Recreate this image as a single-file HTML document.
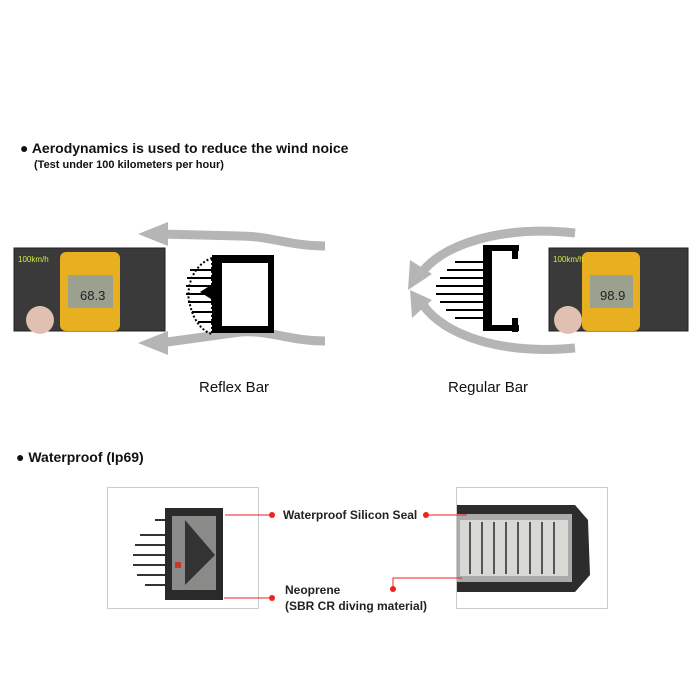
<!DOCTYPE html>
<html><head><style>
body{margin:0;width:700px;height:700px;background:#fff;position:relative;font-family:"Liberation Sans",sans-serif;overflow:hidden}
.t{position:absolute;color:#111;white-space:nowrap}
</style></head><body>
<div class="t" style="left:20px;top:140px;font-size:14px;font-weight:bold">● Aerodynamics is used to reduce the wind noice</div>
<div class="t" style="left:34px;top:159px;font-size:11px;font-weight:bold">(Test under 100 kilometers per hour)</div>
<div class="t" style="left:199px;top:379px;font-size:15px">Reflex Bar</div>
<div class="t" style="left:448px;top:379px;font-size:15px">Regular Bar</div>
<div class="t" style="left:16px;top:449px;font-size:14px;font-weight:bold">● Waterproof (Ip69)</div>
<div class="t" style="left:283px;top:508px;font-size:12px;font-weight:bold;color:#222">Waterproof Silicon Seal</div>
<div class="t" style="left:285px;top:583px;font-size:12px;font-weight:bold;color:#222">Neoprene</div>
<div class="t" style="left:285px;top:599px;font-size:12px;font-weight:bold;color:#222">(SBR CR diving material)</div>
<svg width="700" height="700" style="position:absolute;left:0;top:0">
<!-- left photo -->
<rect x="14" y="248" width="151" height="83" fill="#3a3a3a" stroke="#222"/>
<rect x="60" y="252" width="60" height="79" rx="6" fill="#e8b020"/>
<rect x="68" y="275" width="45" height="33" fill="#9aa28f"/>
<text x="80" y="300" font-size="13" fill="#222" font-family="Liberation Sans">68.3</text>
<circle cx="40" cy="320" r="14" fill="#e0c0b0"/>
<text x="18" y="262" font-size="8" fill="#d8e840" font-family="Liberation Sans">100km/h</text>
<!-- right photo -->
<rect x="549" y="248" width="139" height="83" fill="#3a3a3a" stroke="#222"/>
<rect x="582" y="252" width="58" height="79" rx="6" fill="#e8b020"/>
<rect x="590" y="275" width="43" height="33" fill="#9aa28f"/>
<text x="600" y="300" font-size="13" fill="#222" font-family="Liberation Sans">98.9</text>
<circle cx="568" cy="320" r="14" fill="#e0c0b0"/>
<text x="553" y="262" font-size="8" fill="#d8e840" font-family="Liberation Sans">100km/h</text>
<!-- arrows left -->
<g fill="none" stroke="#b5b5b5" stroke-width="9">
<path d="M325 246 C290 246 270 236 240 236 L160 234"/>
<path d="M325 341 C290 341 270 330 240 332 L160 343"/>
<path d="M575 233 C500 225 440 245 420 275"/>
<path d="M575 348 C500 355 445 335 423 305"/>
</g>
<g fill="#b5b5b5">
<polygon points="138,234 168,222 168,246"/>
<polygon points="138,343 168,331 168,355"/>
<polygon points="408,290 410,260 432,274"/>
<polygon points="410,290 432,300 412,318"/>
</g>
<!-- reflex bar -->
<g>
<rect x="212" y="255" width="62" height="78" fill="#000"/>
<rect x="222" y="263" width="46" height="63" fill="#fff"/>
<path d="M212 258 C192 265 185 290 190 305 C195 325 205 332 212 334 Z" fill="none" stroke="#000" stroke-width="2" stroke-dasharray="2 2"/>
<g stroke="#000" stroke-width="2">
<line x1="190" y1="270" x2="212" y2="270"/><line x1="187" y1="278" x2="212" y2="278"/><line x1="186" y1="286" x2="212" y2="286"/><line x1="186" y1="294" x2="212" y2="294"/><line x1="188" y1="302" x2="212" y2="302"/><line x1="192" y1="312" x2="212" y2="312"/><line x1="198" y1="322" x2="212" y2="322"/>
</g>
<polygon points="200,292 222,278 222,306" fill="#000"/>
</g>
<!-- regular bar -->
<g>
<rect x="483" y="245" width="36" height="6" fill="#000"/>
<rect x="483" y="325" width="36" height="6" fill="#000"/>
<rect x="483" y="245" width="9" height="86" fill="#000"/>
<rect x="512" y="245" width="6" height="14" fill="#000"/>
<rect x="512" y="318" width="6" height="14" fill="#000"/>
<g stroke="#000" stroke-width="2">
<line x1="455" y1="262" x2="483" y2="262"/><line x1="447" y1="270" x2="483" y2="270"/><line x1="440" y1="278" x2="483" y2="278"/><line x1="436" y1="286" x2="483" y2="286"/><line x1="436" y1="294" x2="483" y2="294"/><line x1="440" y1="302" x2="483" y2="302"/><line x1="446" y1="310" x2="483" y2="310"/><line x1="455" y1="318" x2="483" y2="318"/>
</g>
</g>
<!-- waterproof frames -->
<rect x="107.5" y="487.5" width="151" height="121" fill="#fff" stroke="#ccc"/>
<rect x="456.5" y="487.5" width="151" height="121" fill="#fff" stroke="#ccc"/>
<!-- left cross section -->
<rect x="165" y="508" width="58" height="92" fill="#2a2a2a"/>
<rect x="172" y="516" width="44" height="74" fill="#8a8a88"/>
<polygon points="185,520 215,555 185,585" fill="#333"/>
<g stroke="#333" stroke-width="2">
<line x1="140" y1="535" x2="165" y2="535"/><line x1="135" y1="545" x2="165" y2="545"/><line x1="133" y1="555" x2="165" y2="555"/><line x1="133" y1="565" x2="165" y2="565"/><line x1="137" y1="575" x2="165" y2="575"/><line x1="145" y1="585" x2="165" y2="585"/><line x1="155" y1="520" x2="165" y2="520"/>
</g>
<rect x="175" y="562" width="6" height="6" fill="#c33"/>
<!-- right photo bar -->
<path d="M457 505 L575 505 L588 520 L590 575 L575 592 L457 592 Z" fill="#2c2c2c"/>
<rect x="457" y="514" width="115" height="68" fill="#aaa"/>
<rect x="460" y="520" width="108" height="56" fill="#d8d8d4"/>
<g stroke="#555" stroke-width="2">
<line x1="470" y1="522" x2="470" y2="574"/><line x1="482" y1="522" x2="482" y2="574"/><line x1="494" y1="522" x2="494" y2="574"/><line x1="506" y1="522" x2="506" y2="574"/><line x1="518" y1="522" x2="518" y2="574"/><line x1="530" y1="522" x2="530" y2="574"/><line x1="542" y1="522" x2="542" y2="574"/><line x1="554" y1="522" x2="554" y2="574"/>
</g>
<!-- callouts -->
<g stroke="#e22" stroke-width="1" fill="none">
<polyline points="225,515 272,515"/>
<polyline points="224,598 272,598"/>
<polyline points="426,515 467,515"/>
<polyline points="393,589 393,578 462,578"/>
</g>
<g fill="#e22">
<circle cx="272" cy="515" r="3"/><circle cx="272" cy="598" r="3"/><circle cx="426" cy="515" r="3"/><circle cx="393" cy="589" r="3"/>
</g>
</svg>
</body></html>
